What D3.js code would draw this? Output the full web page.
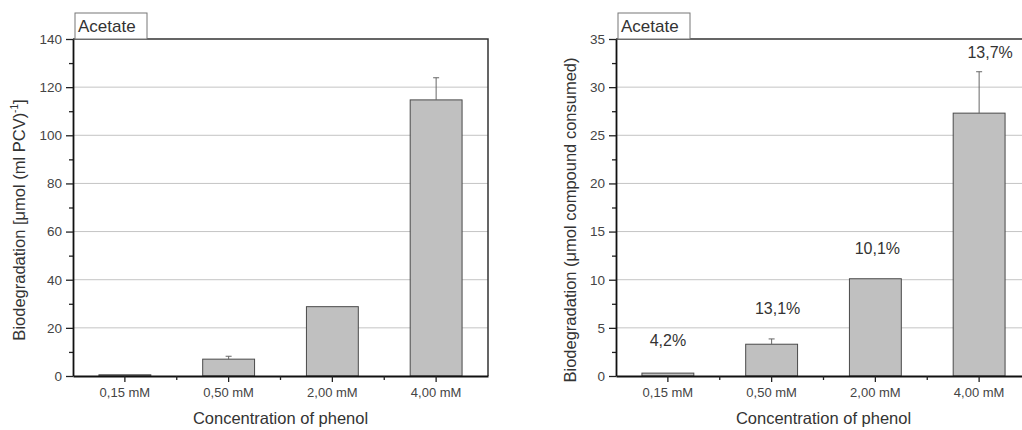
<!DOCTYPE html>
<html>
<head>
<meta charset="utf-8">
<script src="https://cdn.jsdelivr.net/npm/d3@7"></script>
<style>
  body { margin: 0; background: #fff; }
  svg { display: block; font-family: "Liberation Sans", Arial, sans-serif; }
</style>
</head>
<body>
<svg id="chart" width="1022" height="430"></svg>
<script>
// categories shared by both panels
var categories = ["0,15 mM", "0,50 mM", "2,00 mM", "4,00 mM"];

// left panel: specific biodegradation
var specificValues = [0.5, 7.0, 28.8, 114.7];
var specificErrors = [0, 1.2, 0, 9.2];
var specificTicks = [0, 20, 40, 60, 80, 100, 120, 140];

// right panel: compound consumed
var consumedValues = [0.3, 3.3, 10.1, 27.3];
var consumedErrors = [0, 0.55, 0, 4.3];
var consumedTicks = [0, 5, 10, 15, 20, 25, 30, 35];
var consumedPercent = ["4,2%", "13,1%", "10,1%", "13,7%"];
var percentLabelAt = [3.7, 7.0, 13.3, 33.6];

var svg = d3.select("#chart");

/**
 * Draw one bar panel
 */
function drawPanel(cfg) {
    var top = 39, bottom = 376, plotW = 415;
    var left = cfg.left;

    var x = d3.scaleBand()
        .domain(categories)
        .range([left, left + plotW])
        .paddingInner(0.5)
        .paddingOuter(0.25);

    var yMax = cfg.ticks[cfg.ticks.length - 1];
    var y = d3.scaleLinear().domain([0, yMax]).range([bottom, top]);

    var g = svg.append("g");

    // gridlines
    g.selectAll("line.grid")
        .data(cfg.ticks.slice(1, -1))
        .enter().append("line")
        .attr("x1", left).attr("x2", left + plotW)
        .attr("y1", function (d) { return y(d); })
        .attr("y2", function (d) { return y(d); })
        .attr("stroke", "#c4c4c4")
        .attr("stroke-width", 1);

    // bars
    g.selectAll("rect.bar")
        .data(cfg.values)
        .enter().append("rect")
        .attr("x", function (d, i) { return x(categories[i]); })
        .attr("width", x.bandwidth())
        .attr("y", function (d) { return y(d); })
        .attr("height", function (d) { return bottom - y(d); })
        .attr("fill", "#c0c0c0")
        .attr("stroke", "#4a4a4a")
        .attr("stroke-width", 1);

    // error bars (upper half only)
    var errs = cfg.errors.map(function (e, i) { return { v: cfg.values[i], e: e, c: categories[i] }; })
        .filter(function (d) { return d.e > 0; });
    var cx = function (d) { return x(d.c) + x.bandwidth() / 2; };
    g.selectAll("line.err")
        .data(errs)
        .enter().append("line")
        .attr("x1", cx).attr("x2", cx)
        .attr("y1", function (d) { return y(d.v); })
        .attr("y2", function (d) { return y(d.v + d.e); })
        .attr("stroke", "#666").attr("stroke-width", 1);
    g.selectAll("line.cap")
        .data(errs)
        .enter().append("line")
        .attr("x1", function (d) { return cx(d) - 3; })
        .attr("x2", function (d) { return cx(d) + 3; })
        .attr("y1", function (d) { return y(d.v + d.e); })
        .attr("y2", function (d) { return y(d.v + d.e); })
        .attr("stroke", "#666").attr("stroke-width", 1);

    // frame: top and right
    g.append("path")
        .attr("d", "M" + left + "," + top + "H" + (left + plotW) + "V" + bottom)
        .attr("fill", "none").attr("stroke", "#333").attr("stroke-width", 1.5);

    // y axis, major and minor ticks
    var minor = cfg.ticks.slice(1).map(function (t, i) { return (t + cfg.ticks[i]) / 2; });
    g.append("g")
        .attr("transform", "translate(" + left + ",0)")
        .call(d3.axisLeft(y).tickValues(minor).tickSize(4).tickFormat(""))
        .call(function (a) { a.select(".domain").remove(); a.selectAll("line").attr("stroke", "#222").attr("stroke-width", 1.3); });
    var yAxis = g.append("g")
        .attr("transform", "translate(" + left + ",0)")
        .call(d3.axisLeft(y).tickValues(cfg.ticks).tickSize(7).tickSizeOuter(0).tickPadding(4));
    yAxis.select(".domain").attr("stroke", "#111").attr("stroke-width", 1.8);
    yAxis.selectAll("line").attr("stroke", "#222").attr("stroke-width", 1.3);
    yAxis.selectAll("text").attr("font-size", "13.5px").attr("fill", "#444")
        .attr("font-family", "Liberation Sans, Arial, sans-serif");

    // x axis
    var xAxis = g.append("g")
        .attr("transform", "translate(0," + bottom + ")")
        .call(d3.axisBottom(x).tickSize(6).tickSizeOuter(0).tickPadding(6));
    xAxis.select(".domain").attr("stroke", "#111").attr("stroke-width", 1.8);
    xAxis.selectAll("line").attr("stroke", "#222").attr("stroke-width", 1.3);
    xAxis.selectAll("text").attr("font-size", "13px").attr("fill", "#444")
        .attr("font-family", "Liberation Sans, Arial, sans-serif");
    // minor ticks between categories
    g.selectAll("line.xminor")
        .data(categories.slice(1))
        .enter().append("line")
        .attr("x1", function (d) { return x(d) - x.step() * x.paddingInner() / 2; })
        .attr("x2", function (d) { return x(d) - x.step() * x.paddingInner() / 2; })
        .attr("y1", bottom).attr("y2", bottom + 4)
        .attr("stroke", "#222").attr("stroke-width", 1.3);

    // title box
    g.append("rect")
        .attr("x", left + 2).attr("y", 13)
        .attr("width", 72).attr("height", 26)
        .attr("fill", "#fff").attr("stroke", "#777").attr("stroke-width", 1);
    g.append("text")
        .attr("x", left + 5).attr("y", 32)
        .attr("font-size", "17px").attr("fill", "#333")
        .text("Acetate");

    // axis titles
    g.append("text")
        .attr("x", left + plotW / 2).attr("y", 424)
        .attr("text-anchor", "middle")
        .attr("font-size", "16.5px").attr("fill", "#333")
        .text("Concentration of phenol");

    var yl = g.append("text")
        .attr("transform", "translate(" + cfg.labelX + ",220) rotate(-90)")
        .attr("text-anchor", "middle")
        .attr("font-size", "16.5px").attr("fill", "#333");
    cfg.yLabel(yl);

    return { x: x, y: y, g: g };
}

var leftPanel = drawPanel({
    left: 73,
    values: specificValues,
    errors: specificErrors,
    ticks: specificTicks,
    labelX: 25,
    yLabel: function (t) {
        t.append("tspan").text("Biodegradation [\u03bcmol (ml PCV)");
        t.append("tspan").attr("font-size", "10px").attr("dy", -7).text("-1");
        t.append("tspan").attr("dy", 7).text("]");
    }
});

var rightPanel = drawPanel({
    left: 616,
    values: consumedValues,
    errors: consumedErrors,
    ticks: consumedTicks,
    labelX: 576,
    yLabel: function (t) {
        t.text("Biodegradation (\u03bcmol compound consumed)");
    }
});

// percentage labels on the right panel
var pctNudge = [0, 6, 2, 11];
rightPanel.g.selectAll("text.pct")
    .data(consumedPercent)
    .enter().append("text")
    .attr("x", function (d, i) { return rightPanel.x(categories[i]) + rightPanel.x.bandwidth() / 2 + pctNudge[i]; })
    .attr("y", function (d, i) { return rightPanel.y(percentLabelAt[i]); })
    .attr("dy", "0.35em")
    .attr("text-anchor", "middle")
    .attr("font-size", "16px").attr("fill", "#333")
    .text(function (d) { return d; });
</script>
</body>
</html>
